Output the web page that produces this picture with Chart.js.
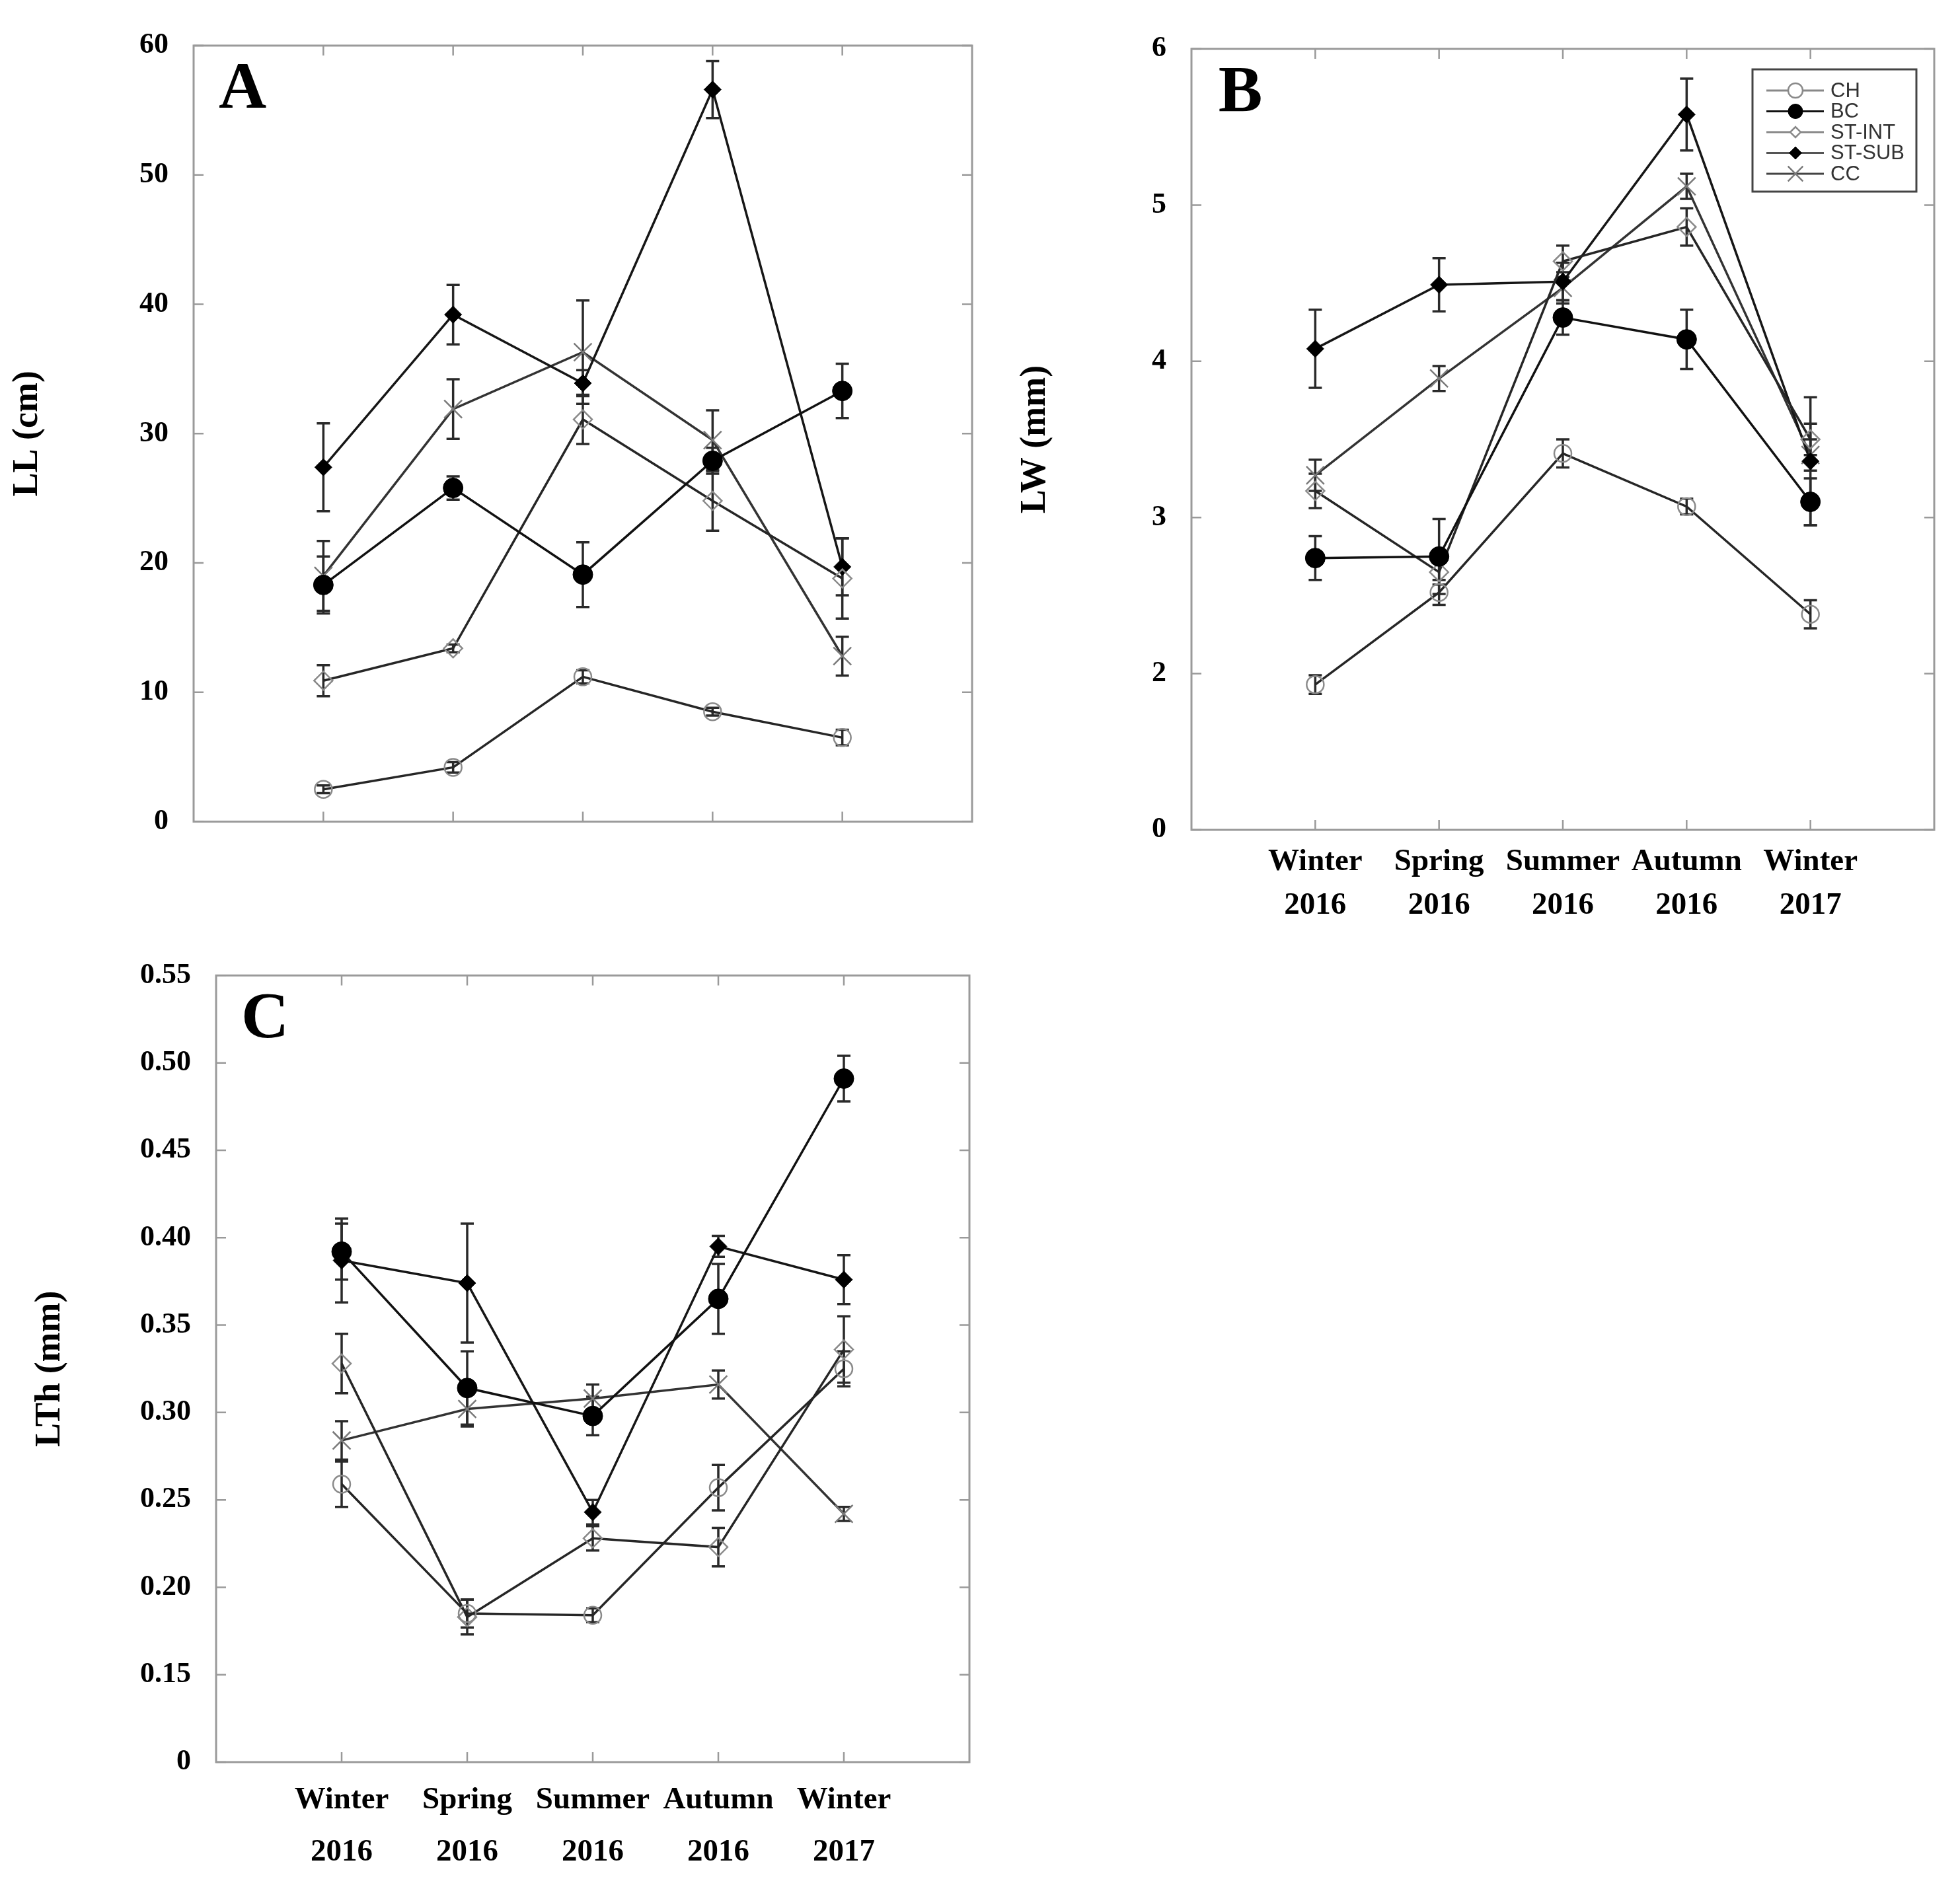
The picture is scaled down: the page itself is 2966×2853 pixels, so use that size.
<!DOCTYPE html>
<html>
<head>
<meta charset="utf-8">
<script src="https://cdn.jsdelivr.net/npm/chart.js@4.4.1/dist/chart.umd.min.js"></script>
<style>
  html, body { margin: 0; padding: 0; background: #fff; }
  body { position: relative; width: 2966px; height: 2853px; overflow: hidden; }
  canvas { position: absolute; }
</style>
</head>
<body>
<canvas id="panelA"></canvas>
<canvas id="panelB"></canvas>
<canvas id="panelC"></canvas>
<script>
// Seasonal leaf traits (mean ± SE) for five groups, three panels.
const seasons = [["Winter", "2016"], ["Spring", "2016"], ["Summer", "2016"], ["Autumn", "2016"], ["Winter", "2017"]];
const groups = ["CH", "BC", "ST-INT", "ST-SUB", "CC"];

// A: leaf length, cm
const llCH    = [2.5, 4.2, 11.2, 8.5, 6.5];
const llCHse  = [0.3, 0.4, 0.5, 0.3, 0.6];
const llBC    = [18.3, 25.8, 19.1, 27.9, 33.3];
const llBCse  = [2.2, 0.9, 2.5, 1.0, 2.1];
const llINT   = [10.9, 13.4, 31.1, 24.8, 18.8];
const llINTse = [1.2, 0.3, 1.9, 2.3, 3.1];
const llSUB   = [27.4, 39.2, 33.9, 56.6, 19.7];
const llSUBse = [3.4, 2.3, 1.0, 2.2, 2.2];
const llCC    = [19.0, 31.9, 36.3, 29.5, 12.8];
const llCCse  = [2.7, 2.3, 4.0, 2.3, 1.5];
const llTicks = [0, 10, 20, 30, 40, 50, 60];
const llTickLabels = ["0", "10", "20", "30", "40", "50", "60"];

// B: leaf width, mm (bottom of axis labelled 0)
const lwCH    = [1.93, 2.52, 3.41, 3.07, 2.38];
const lwCHse  = [0.06, 0.08, 0.09, 0.05, 0.09];
const lwBC    = [2.74, 2.75, 4.28, 4.14, 3.10];
const lwBCse  = [0.14, 0.24, 0.11, 0.19, 0.15];
const lwINT   = [3.17, 2.65, 4.64, 4.86, 3.50];
const lwINTse = [0.11, 0.08, 0.10, 0.12, 0.10];
const lwSUB   = [4.08, 4.49, 4.51, 5.58, 3.36];
const lwSUBse = [0.25, 0.17, 0.12, 0.23, 0.41];
const lwCC    = [3.27, 3.89, 4.47, 5.12, 3.40];
const lwCCse  = [0.10, 0.08, 0.10, 0.08, 0.10];
const lwTicks = [1, 2, 3, 4, 5, 6];
const lwTickLabels = ["0", "2", "3", "4", "5", "6"];

// C: leaf thickness, mm (bottom of axis labelled 0)
const lthCH    = [0.259, 0.185, 0.184, 0.257, 0.325];
const lthCHse  = [0.013, 0.008, 0.004, 0.013, 0.010];
const lthBC    = [0.392, 0.314, 0.298, 0.365, 0.491];
const lthBCse  = [0.016, 0.021, 0.011, 0.020, 0.013];
const lthINT   = [0.328, 0.183, 0.228, 0.223, 0.336];
const lthINTse = [0.017, 0.010, 0.007, 0.011, 0.019];
const lthSUB   = [0.387, 0.374, 0.243, 0.395, 0.376];
const lthSUBse = [0.024, 0.034, 0.007, 0.006, 0.014];
const lthCC    = [0.284, 0.302, 0.308, 0.316, 0.242];
const lthCCse  = [0.011, 0.010, 0.008, 0.008, 0.004];
const lthTicks = [0.10, 0.15, 0.20, 0.25, 0.30, 0.35, 0.40, 0.45, 0.50, 0.55];
const lthTickLabels = ["0", "0.15", "0.20", "0.25", "0.30", "0.35", "0.40", "0.45", "0.50", "0.55"];

// marker / line look per group (kr = marker radius in the legend box)
const look = {
  "CH":     { style: "circle",   r: 13, kr: 11,  bw: 2.5, fill: "rgba(0,0,0,0)", edge: "#8a8a8a", line: "#262626", key: "#888" },
  "BC":     { style: "circle",   r: 15, kr: 11,  bw: 1,   fill: "#000",          edge: "#000",    line: "#111",    key: "#111" },
  "ST-INT": { style: "rectRot",  r: 14, kr: 8,   bw: 2.5, fill: "rgba(0,0,0,0)", edge: "#8a8a8a", line: "#262626", key: "#888" },
  "ST-SUB": { style: "rectRot",  r: 13, kr: 9.5, bw: 1,   fill: "#000",          edge: "#000",    line: "#161616", key: "#555" },
  "CC":     { style: "crossRot", r: 19, kr: 16,  bw: 2.5, fill: "rgba(0,0,0,0)", edge: "#7a7a7a", line: "#333",    key: "#444" },
};

const panels = [
  { id: "panelA", left: 0, top: 0, w: 1520, h: 1300, area: { l: 293, t: 69, r: 1471, b: 1251 },
    title: "LL (cm)", titlePad: 10, letter: "A", ticks: llTicks, tickLabels: llTickLabels,
    xLabels: false, xPad: 0, xLine: 1.2, legend: false,
    means: { "CH": llCH, "BC": llBC, "ST-INT": llINT, "ST-SUB": llSUB, "CC": llCC },
    errs:  { "CH": llCHse, "BC": llBCse, "ST-INT": llINTse, "ST-SUB": llSUBse, "CC": llCCse } },
  { id: "panelB", left: 1530, top: 0, w: 1436, h: 1440, area: { l: 273, t: 74, r: 1397, b: 1256 },
    title: "LW (mm)", titlePad: 5, letter: "B", ticks: lwTicks, tickLabels: lwTickLabels,
    xLabels: true, xPad: 7, xLine: 1.42, legend: true,
    means: { "CH": lwCH, "BC": lwBC, "ST-INT": lwINT, "ST-SUB": lwSUB, "CC": lwCC },
    errs:  { "CH": lwCHse, "BC": lwBCse, "ST-INT": lwINTse, "ST-SUB": lwSUBse, "CC": lwCCse } },
  { id: "panelC", left: 0, top: 1420, w: 1520, h: 1433, area: { l: 327, t: 46, r: 1467, b: 1247 },
    title: "LTh (mm)", titlePad: 44, letter: "C", ticks: lthTicks, tickLabels: lthTickLabels,
    xLabels: true, xPad: 10, xLine: 1.68, legend: false,
    means: { "CH": lthCH, "BC": lthBC, "ST-INT": lthINT, "ST-SUB": lthSUB, "CC": lthCC },
    errs:  { "CH": lthCHse, "BC": lthBCse, "ST-INT": lthINTse, "ST-SUB": lthSUBse, "CC": lthCCse } },
];

Chart.defaults.font.family = "'Liberation Serif', 'Times New Roman', serif";
Chart.defaults.color = "#000";

// frame with inward ticks, error bars, panel letter, legend box
const decorations = {
  id: "decorations",
  beforeDatasetsDraw(chart) {
    const { ctx, chartArea: a, scales: { x, y } } = chart;
    ctx.save();
    ctx.strokeStyle = "#9a9a9a";
    ctx.lineWidth = 3;
    ctx.strokeRect(a.left, a.top, a.right - a.left, a.bottom - a.top);
    ctx.lineWidth = 2.5;
    ctx.beginPath();
    y.ticks.forEach(t => {
      const py = y.getPixelForValue(t.value);
      ctx.moveTo(a.left, py); ctx.lineTo(a.left + 15, py);
      ctx.moveTo(a.right, py); ctx.lineTo(a.right - 15, py);
    });
    x.ticks.forEach(t => {
      const px = x.getPixelForValue(t.value);
      ctx.moveTo(px, a.bottom); ctx.lineTo(px, a.bottom - 15);
      ctx.moveTo(px, a.top); ctx.lineTo(px, a.top + 15);
    });
    ctx.stroke();

    // error bars (mean ± SE)
    ctx.strokeStyle = "#2a2a2a";
    ctx.lineWidth = 3.5;
    chart.data.datasets.forEach(ds => {
      ds.data.forEach((pt, i) => {
        const e = ds.err[i];
        const px = x.getPixelForValue(pt.x);
        const top = y.getPixelForValue(pt.y + e), bot = y.getPixelForValue(pt.y - e);
        ctx.beginPath();
        ctx.moveTo(px, top); ctx.lineTo(px, bot);
        ctx.moveTo(px - 10, top); ctx.lineTo(px + 10, top);
        ctx.moveTo(px - 10, bot); ctx.lineTo(px + 10, bot);
        ctx.stroke();
      });
    });
    ctx.restore();
  },
  afterDatasetsDraw(chart, args, opts) {
    const { ctx, chartArea: a } = chart;
    ctx.save();
    ctx.fillStyle = "#000";
    ctx.font = "bold 100px 'Liberation Serif', serif";
    ctx.textAlign = "center";
    ctx.textBaseline = "middle";
    ctx.fillText(opts.letter, a.left + 74, a.top + 68);

    if (opts.legend) {
      const bw = 248, bh = 185;
      const bx = a.right - 27 - bw, by = a.top + 31;
      ctx.fillStyle = "#fff";
      ctx.fillRect(bx, by, bw, bh);
      ctx.strokeStyle = "#444";
      ctx.lineWidth = 3;
      ctx.strokeRect(bx, by, bw, bh);
      ctx.font = "31px 'Liberation Sans', Arial, sans-serif";
      ctx.textAlign = "left";
      groups.forEach((g, i) => {
        const ly = by + 32 + i * 31.5;
        const st = look[g];
        ctx.strokeStyle = st.key;
        ctx.lineWidth = 3;
        ctx.beginPath(); ctx.moveTo(bx + 21, ly); ctx.lineTo(bx + 108, ly); ctx.stroke();
        ctx.fillStyle = st.fill === "rgba(0,0,0,0)" ? "#fff" : st.fill;
        ctx.strokeStyle = st.edge;
        ctx.lineWidth = st.bw;
        Chart.helpers.drawPoint(ctx, { pointStyle: st.style, radius: st.kr, borderWidth: st.bw, rotation: 0 }, bx + 65, ly);
        ctx.fillStyle = "#333";
        ctx.fillText(g, bx + 118, ly + 1);
      });
    }
    ctx.restore();
  },
};

function makePanel(p) {
  const cv = document.getElementById(p.id);
  cv.width = p.w; cv.height = p.h;
  Object.assign(cv.style, { left: p.left + "px", top: p.top + "px", width: p.w + "px", height: p.h + "px" });

  const datasets = groups.map(g => ({
    label: g,
    data: p.means[g].map((v, i) => ({ x: i + 1, y: v })),
    err: p.errs[g],
    borderColor: look[g].line,
    borderWidth: 3.5,
    pointStyle: look[g].style,
    pointRadius: look[g].r,
    pointBorderWidth: look[g].bw,
    pointBackgroundColor: look[g].fill,
    pointBorderColor: look[g].edge,
    tension: 0,
    fill: false,
  }));

  return new Chart(cv, {
    type: "line",
    data: { datasets },
    plugins: [decorations],
    options: {
      responsive: false,
      animation: false,
      devicePixelRatio: 1,
      layout: { padding: { left: 0, top: p.area.t, right: p.w - p.area.r, bottom: 0 } },
      plugins: {
        legend: { display: false },
        tooltip: { enabled: false },
        decorations: { letter: p.letter, legend: p.legend },
      },
      scales: {
        x: {
          type: "linear", min: 0, max: 6,
          grid: { display: false }, border: { display: false },
          afterBuildTicks: s => { s.ticks = seasons.map((_, i) => ({ value: i + 1 })); },
          afterFit: s => { s.height = p.h - p.area.b; },
          ticks: {
            display: p.xLabels, autoSkip: false, maxRotation: 0, padding: p.xPad,
            font: { size: 47, weight: "bold", lineHeight: p.xLine }, color: "#000",
            callback: v => seasons[Math.round(v) - 1],
          },
        },
        y: {
          type: "linear", min: p.ticks[0], max: p.ticks[p.ticks.length - 1],
          grid: { display: false }, border: { display: false },
          afterBuildTicks: s => { s.ticks = p.ticks.map(v => ({ value: v })); },
          afterFit: s => { s.width = p.area.l; },
          ticks: {
            padding: 30, font: { size: 44, weight: "bold" }, color: "#000",
            callback: (v, i) => p.tickLabels[i],
          },
          title: {
            display: true, text: p.title, color: "#000",
            font: { size: 54, weight: "bold" }, padding: { top: p.titlePad, bottom: 0 },
          },
        },
      },
    },
  });
}

panels.forEach(makePanel);
</script>
</body>
</html>
